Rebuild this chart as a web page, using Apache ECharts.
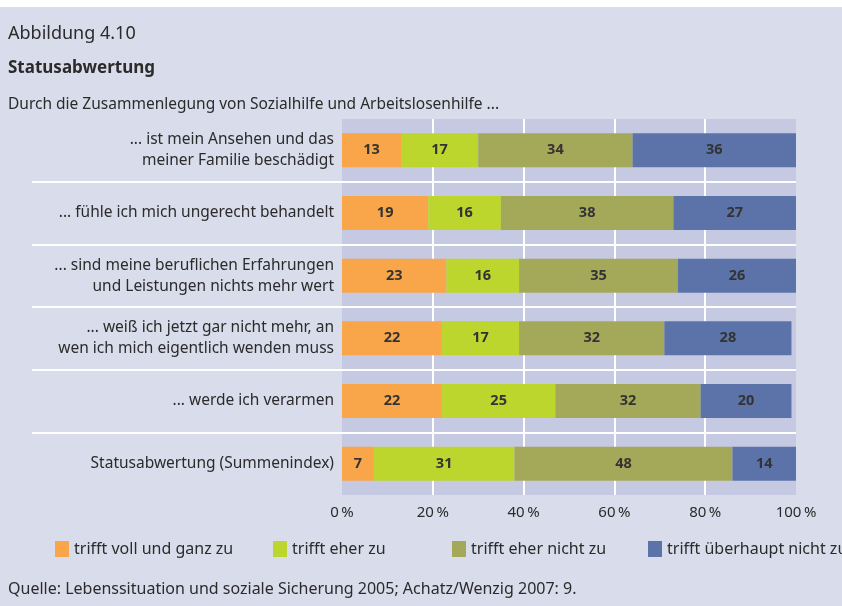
<!DOCTYPE html>
<html style="height: 100%">
<head>
    <meta charset="utf-8">
</head>
<body style="height: 100%; margin: 0; background: #ffffff">
<div id="container" style="width: 842px; height: 606px"></div>

<script type="text/javascript" src="https://cdn.jsdelivr.net/npm/echarts@6/dist/echarts.min.js"></script>

<script type="text/javascript">
    var categories = [
        '... ist mein Ansehen und das\nmeiner Familie beschädigt',
        '... fühle ich mich ungerecht behandelt',
        '... sind meine beruflichen Erfahrungen\nund Leistungen nichts mehr wert',
        '... weiß ich jetzt gar nicht mehr, an\nwen ich mich eigentlich wenden muss',
        '... werde ich verarmen',
        'Statusabwertung (Summenindex)'
    ];
    var seriesNames = ['trifft voll und ganz zu', 'trifft eher zu', 'trifft eher nicht zu', 'trifft überhaupt nicht zu'];
    var vollUndGanz = [13, 19, 23, 22, 22, 7];
    var eherZu = [17, 16, 16, 17, 25, 31];
    var eherNicht = [34, 38, 35, 32, 32, 48];
    var ueberhauptNicht = [36, 27, 26, 28, 20, 14];
    var xTicks = [0, 20, 40, 60, 80, 100];

    var colors = ['#f9a54a', '#bdd62e', '#a4a95a', '#5b73a8'];
    var values = [vollUndGanz, eherZu, eherNicht, ueberhauptNicht];
    var font = 'Noto Sans';

    var dom = document.getElementById('container');
    var myChart = echarts.init(dom);

    var legendLeft = [50, 268, 447, 643];

    var option = {
        backgroundColor: '#d9dcea',
        textStyle: { fontFamily: font },
        graphic: [{
            type: 'rect',
            shape: { x: 0, y: 0, width: 842, height: 7 },
            style: { fill: '#ffffff' }
        }],
        title: [
            { text: 'Abbildung 4.10', left: 8, top: 25, padding: 0,
              textStyle: { fontFamily: font, fontSize: 18, fontWeight: 'normal', color: '#2b2b2b' } },
            { text: 'Statusabwertung', left: 8, top: 60, padding: 0,
              textStyle: { fontFamily: font, fontSize: 17, fontWeight: 'bold', color: '#2b2b2b' } },
            { text: 'Durch die Zusammenlegung von Sozialhilfe und Arbeitslosenhilfe ...', left: 8, top: 97, padding: 0,
              textStyle: { fontFamily: font, fontSize: 15.5, fontWeight: 'normal', color: '#2b2b2b' } },
            { text: 'Quelle: Lebenssituation und soziale Sicherung 2005; Achatz/Wenzig 2007: 9.', left: 8, top: 581, padding: 0,
              textStyle: { fontFamily: font, fontSize: 16, fontWeight: 'normal', color: '#2b2b2b' } }
        ],
        legend: seriesNames.map(function (name, i) {
            return {
                data: [name],
                left: legendLeft[i],
                top: 536,
                icon: 'rect',
                itemWidth: 14,
                itemHeight: 16,
                itemGap: 5,
                selectedMode: false,
                textStyle: { fontFamily: font, fontSize: 16, color: '#2b2b2b' }
            };
        }),
        grid: [
            { left: 342, right: 46, top: 119, bottom: 111, show: true,
              backgroundColor: '#c5cae2', borderWidth: 0, containLabel: false },
            { left: 32, right: 46, top: 119, bottom: 111, show: false, containLabel: false }
        ],
        xAxis: [
            {
                type: 'value', gridIndex: 0, min: 0, max: 100, interval: 20,
                axisLine: { show: false }, axisTick: { show: false },
                splitLine: { show: true, showMinLine: false, showMaxLine: false,
                             lineStyle: { color: '#ffffff', width: 2 } },
                axisLabel: {
                    margin: 10, fontSize: 15, color: '#2b2b2b', fontFamily: font,
                    formatter: function (v) { return xTicks.indexOf(v) >= 0 ? v + '\u2009%' : ''; }
                }
            },
            { type: 'value', gridIndex: 1, min: 0, max: 1, show: false }
        ],
        yAxis: [
            {
                type: 'category', gridIndex: 0, data: categories, inverse: true,
                axisLine: { show: false }, axisTick: { show: false }, splitLine: { show: false },
                axisLabel: { margin: 8, fontSize: 15.5, lineHeight: 21, color: '#2b2b2b', fontFamily: font }
            },
            {
                type: 'value', gridIndex: 1, min: 0, max: 6, interval: 1, z: 2,
                axisLine: { show: false }, axisTick: { show: false }, axisLabel: { show: false },
                splitLine: { show: true, showMinLine: false, showMaxLine: false,
                             lineStyle: { color: '#ffffff', width: 2 } }
            }
        ],
        series: seriesNames.map(function (name, i) {
            return {
                name: name,
                type: 'bar',
                stack: 'total',
                xAxisIndex: 0,
                yAxisIndex: 0,
                barWidth: 34,
                data: values[i],
                itemStyle: { color: colors[i] },
                label: {
                    show: true, position: 'inside', fontSize: 14.5, fontWeight: 'bold',
                    color: '#333333', fontFamily: font
                }
            };
        })
    };

    myChart.setOption(option);
</script>
</body>
</html>
